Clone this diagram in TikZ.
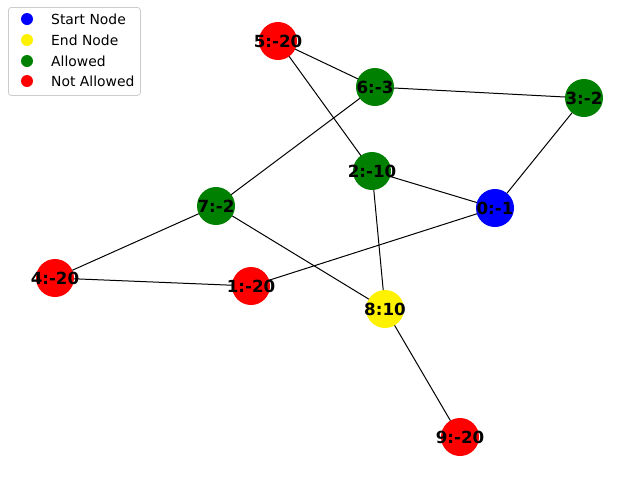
\documentclass[tikz,border=0pt]{standalone}
\usepackage{fontspec}
\setmainfont{DejaVu Sans}
\definecolor{mgreen}{RGB}{0,128,0}
\tikzset{
  gnode/.style={circle,minimum size=38pt,inner sep=0pt,outer sep=0pt,draw=none,
    label={[font=\fontsize{16.7}{18}\selectfont\bfseries,text=black,inner sep=0pt]center:#1}},
  edge/.style={draw=black,line width=1pt},
  lmark/.style={circle,minimum size=12pt,inner sep=0pt},
  ltext/.style={anchor=west,font=\fontsize{13.9}{15}\selectfont,inner sep=0pt}
}
\begin{document}
\begin{tikzpicture}[x=1pt,y=-1pt]
\fill[white] (0,0) rectangle (640,480);
\useasboundingbox (0,0) rectangle (640,480);
\node[gnode={0:-1},fill=blue] (n0) at (495,208) {};
\node[gnode={1:-20},fill=red] (n1) at (251,286) {};
\node[gnode={2:-10},fill=mgreen] (n2) at (372,171) {};
\node[gnode={3:-2},fill=mgreen] (n3) at (584,98) {};
\node[gnode={4:-20},fill=red] (n4) at (55,278) {};
\node[gnode={5:-20},fill=red] (n5) at (278,41) {};
\node[gnode={6:-3},fill=mgreen] (n6) at (375,87) {};
\node[gnode={7:-2},fill=mgreen] (n7) at (216,206) {};
\node[gnode={8:10},fill=yellow] (n8) at (385,309) {};
\node[gnode={9:-20},fill=red] (n9) at (460,437) {};
\draw[edge] (n5) -- (n6);
\draw[edge] (n5) -- (n2);
\draw[edge] (n6) -- (n3);
\draw[edge] (n6) -- (n7);
\draw[edge] (n3) -- (n0);
\draw[edge] (n2) -- (n0);
\draw[edge] (n2) -- (n8);
\draw[edge] (n0) -- (n1);
\draw[edge] (n7) -- (n4);
\draw[edge] (n7) -- (n8);
\draw[edge] (n4) -- (n1);
\draw[edge] (n8) -- (n9);
% legend
\node[draw={rgb,255:red,204;green,204;blue,204},line width=0.8pt,rounded corners=3pt,minimum width=132pt,minimum height=88pt,anchor=north west,inner sep=0pt] (leg) at (8,7) {};
\node[lmark,fill=blue] (m1) at (27,19) {};
\node[lmark,fill=yellow] (m2) at (27,40) {};
\node[lmark,fill=mgreen] (m3) at (27,61) {};
\node[lmark,fill=red] (m4) at (27,81) {};
\node[ltext] (t1) at (51,19) {Start Node};
\node[ltext] (t2) at (51,40) {End Node};
\node[ltext] (t3) at (51,61) {Allowed};
\node[ltext] (t4) at (51,81) {Not Allowed};
\end{tikzpicture}
\end{document}
